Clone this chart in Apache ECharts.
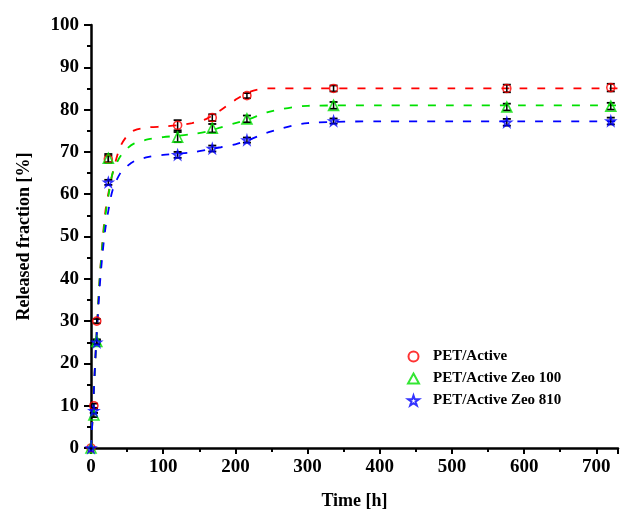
<!DOCTYPE html>
<html>
<head>
<meta charset="utf-8">
<script src="https://cdn.jsdelivr.net/npm/echarts@6/dist/echarts.min.js"></script>
<style>html,body{margin:0;padding:0;background:#fff}#c{width:621px;height:515px}</style>
</head>
<body>
<div id="c"></div>
<script>
// measured data
var time = [0, 4, 8, 24, 120, 168, 216, 336, 576, 720];
var redVals = [0, 10, 30, 68.3, 76.3, 78.1, 83.3, 85, 85, 85.2];
var greenVals = [0, 7.8, 25.2, 68.5, 73.5, 75.6, 77.8, 81, 80.6, 80.8];
var blueVals = [0, 8.8, 25, 62.8, 69.3, 70.8, 72.8, 77.3, 77, 77.3];
var redErr = [0, 0.5, 0.5, 0.8, 1.2, 0.8, 0.6, 0.7, 0.9, 0.9];
var greenErr = [0, 0.5, 0.5, 1.0, 1.2, 1.0, 0.8, 0.8, 0.8, 0.8];
var blueErr = [0, 0.5, 0.5, 0.6, 0.7, 0.7, 0.6, 0.6, 0.8, 0.8];
// fitted curves
var fitTime = [0, 3, 6, 9, 12, 16, 20, 25, 30, 40, 50, 60, 80, 100, 120, 140, 160, 180, 200, 220, 245, 300, 400, 500, 600, 730];
var redFit = [0, 10, 21, 31, 40, 49, 56, 61, 65, 71, 73.8, 75.1, 75.8, 76, 76.3, 76.8, 77.8, 79.9, 82.3, 84.2, 85, 85, 85, 85, 85, 85];
var greenFit = [0, 10, 21, 31, 40, 48.5, 55, 60.5, 65, 68.8, 70.8, 72, 73, 73.5, 73.8, 74.2, 74.8, 75.8, 76.8, 77.8, 79.4, 80.9, 81, 81, 81, 81];
var blueFit = [0, 10, 21, 30, 38, 46, 52, 57, 61, 64.8, 66.6, 67.8, 68.8, 69.3, 69.6, 69.9, 70.5, 71.1, 71.8, 72.9, 74.6, 76.8, 77.2, 77.2, 77.2, 77.2];
var names = ['PET/Active', 'PET/Active Zeo 100', 'PET/Active Zeo 810'];
var xTicks = [0, 100, 200, 300, 400, 500, 600, 700];
var yTicks = [0, 10, 20, 30, 40, 50, 60, 70, 80, 90, 100];

var colors = ['#ff0000', '#00e000', '#0000ff'];
var starPath = 'path://M50,0 L61.8,35.5 L100,35.5 L69.1,57.4 L80.9,93.1 L50,71 L19.1,93.1 L30.9,57.4 L0,35.5 L38.2,35.5 Z';
var symbols = ['circle', 'triangle', starPath];
var symSizes = [8, 10, 9];

function pairs(xs, ys) { return xs.map(function (x, i) { return [x, ys[i]]; }); }
function errData(xs, ys, es) { return xs.map(function (x, i) { return [x, ys[i] - es[i], ys[i] + es[i]]; }); }

var FONT = 'Liberation Serif';
var series = [];
var vals = [redVals, greenVals, blueVals];
var errs = [redErr, greenErr, blueErr];
var fits = [redFit, greenFit, blueFit];
for (var k = 0; k < 3; k++) {
  series.push({
    type: 'line', name: names[k] + ' fit', data: pairs(fitTime, fits[k]),
    showSymbol: false, smooth: 0.3, silent: true,
    lineStyle: { color: colors[k], width: 1.8, type: [8, 10] }, z: 1
  });
}
for (var k = 0; k < 3; k++) {
  series.push({
    type: 'custom', name: names[k] + ' err', data: errData(time, vals[k], errs[k]), z: 3, silent: true,
    renderItem: function (params, api) {
      var x = api.value(0);
      var lo = api.coord([x, api.value(1)]);
      var hi = api.coord([x, api.value(2)]);
      var w = 4;
      return {
        type: 'group', children: [
          { type: 'line', shape: { x1: lo[0], y1: lo[1], x2: hi[0], y2: hi[1] }, style: { stroke: '#000', lineWidth: 1.5 } },
          { type: 'line', shape: { x1: lo[0] - w, y1: lo[1], x2: lo[0] + w, y2: lo[1] }, style: { stroke: '#000', lineWidth: 1.8 } },
          { type: 'line', shape: { x1: hi[0] - w, y1: hi[1], x2: hi[0] + w, y2: hi[1] }, style: { stroke: '#000', lineWidth: 1.8 } }
        ]
      };
    }
  });
}
for (var k = 0; k < 3; k++) {
  series.push({
    type: 'scatter', name: names[k], data: pairs(time, vals[k]),
    symbol: symbols[k], symbolSize: symSizes[k], z: 4,
    itemStyle: { color: 'rgba(255,255,255,0)', borderColor: colors[k], borderWidth: 1.6 }
  });
}

var chart = echarts.init(document.getElementById('c'), null, { renderer: 'canvas' });
chart.setOption({
  animation: false,
  backgroundColor: '#fff',
  grid: { left: 91, right: 3, top: 25, bottom: 64, containLabel: false },
  legend: {
    data: names, orient: 'vertical', left: 402, top: 344, itemGap: 7,
    itemWidth: 11, itemHeight: 10,
    textStyle: { fontFamily: FONT, fontWeight: 'bold', fontSize: 15, color: '#000', padding: [0, 0, 0, 9] }
  },
  xAxis: {
    type: 'value', min: 0, max: 730, interval: 100,
    name: 'Time [h]', nameLocation: 'middle', nameGap: 44,
    nameTextStyle: { fontFamily: FONT, fontWeight: 'bold', fontSize: 18, color: '#000' },
    axisLine: { lineStyle: { color: '#000', width: 2.5 } },
    axisTick: { inside: false, length: 6, lineStyle: { color: '#000', width: 2 } },
    minorTick: { show: true, splitNumber: 2, length: 4, lineStyle: { color: '#000', width: 2 } },
    splitLine: { show: false },
    axisLabel: { fontFamily: FONT, fontWeight: 'bold', fontSize: 19, color: '#000', margin: 10,
      formatter: function (v) { return xTicks.indexOf(v) >= 0 ? String(v) : ''; } }
  },
  yAxis: {
    type: 'value', min: 0, max: 100, interval: 10,
    name: 'Released fraction [%]', nameLocation: 'middle', nameGap: 58,
    nameTextStyle: { fontFamily: FONT, fontWeight: 'bold', fontSize: 18, color: '#000' },
    axisLine: { show: true, lineStyle: { color: '#000', width: 2.5 } },
    axisTick: { show: true, inside: false, length: 7, lineStyle: { color: '#000', width: 2 } },
    minorTick: { show: true, splitNumber: 2, length: 4, lineStyle: { color: '#000', width: 2 } },
    splitLine: { show: false },
    axisLabel: { fontFamily: FONT, fontWeight: 'bold', fontSize: 19, color: '#000', margin: 12,
      formatter: function (v) { return yTicks.indexOf(v) >= 0 ? String(v) : ''; } }
  },
  series: series
});
</script>
</body>
</html>
